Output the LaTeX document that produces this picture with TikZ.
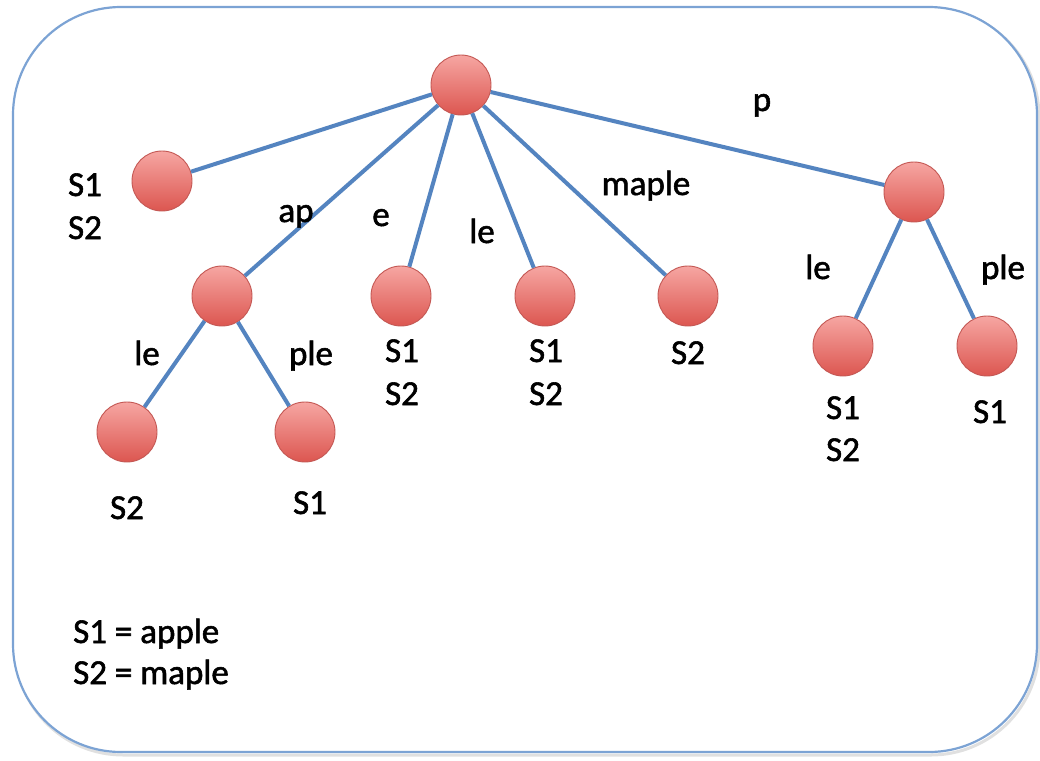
\documentclass[tikz,border=0pt]{standalone}
\usepackage{fontspec}
\setmainfont{Carlito}[BoldFont=Carlito,BoldFeatures={FakeBold=1.6}]
\begin{document}
\begin{tikzpicture}[x=1pt,y=-1pt,
  edge/.style={draw=edgeblue,line width=4pt},
  vtx/.style={circle,minimum size=60pt,inner sep=0pt,draw=vtxline,line width=0.9pt,
    top color=vtxtop,bottom color=vtxbot},
  lbl/.style={font=\fontsize{35}{42}\selectfont\bfseries,anchor=base,inner sep=0pt,text=black}]
\definecolor{edgeblue}{RGB}{84,132,192}
\definecolor{framecol}{RGB}{124,163,212}
\definecolor{vtxline}{RGB}{196,88,84}
\definecolor{vtxtop}{RGB}{246,166,162}
\definecolor{vtxbot}{RGB}{220,86,80}
\useasboundingbox (0,0) rectangle (1040,760);
% outer frame with a faint shadow
\draw[black!12,line width=3pt,rounded corners=108pt] (15,9) rectangle (1039,755);
\draw[framecol,line width=2.2pt,fill=white,rounded corners=108pt] (13,7) rectangle (1037,752);

% vertices
\node[vtx] (root) at (461,85) {};
\node[vtx] (n12) at (162,181) {};
\node[vtx] (ap) at (222,296) {};
\node[vtx] (aple) at (127,432) {};
\node[vtx] (apple) at (305,432) {};
\node[vtx] (e) at (401,296) {};
\node[vtx] (le) at (545,296) {};
\node[vtx] (maple) at (688,296) {};
\node[vtx] (p) at (914,192) {};
\node[vtx] (ple) at (843,346) {};
\node[vtx] (pple) at (987,346) {};

% tree edges
\path[edge] (root) -- (n12);
\path[edge] (root) -- (ap);
\path[edge] (root) -- (e);
\path[edge] (root) -- (le);
\path[edge] (root) -- (maple);
\path[edge] (root) -- (p);
\path[edge] (ap) -- (aple);
\path[edge] (ap) -- (apple);
\path[edge] (p) -- (ple);
\path[edge] (p) -- (pple);

% edge labels
\node[lbl] (tap) at (296,222) {ap};
\node[lbl] (te) at (381,226) {e};
\node[lbl] (tle) at (482,243) {le};
\node[lbl] (tmaple) at (646,195) {maple};
\node[lbl] (tp) at (762,111) {p};
\node[lbl] (tle2) at (147,365) {le};
\node[lbl] (tple2) at (311,365) {ple};
\node[lbl] (tle3) at (818,279) {le};
\node[lbl] (tple3) at (1003,279) {ple};

% leaf sets
\node[lbl] (s1a) at (85,196) {S1};
\node[lbl] (s2a) at (85,239) {S2};
\node[lbl] (s2b) at (127,519) {S2};
\node[lbl] (s1c) at (310,514) {S1};
\node[lbl] (s1d) at (402,362) {S1};
\node[lbl] (s2d) at (402,405) {S2};
\node[lbl] (s1e) at (546,362) {S1};
\node[lbl] (s2e) at (546,405) {S2};
\node[lbl] (s2f) at (688,364) {S2};
\node[lbl] (s1g) at (843,419) {S1};
\node[lbl] (s2g) at (843,461) {S2};
\node[lbl] (s1h) at (990,423) {S1};

% legend
\node[lbl,anchor=base west] (key1) at (73,643) {S1 = apple};
\node[lbl,anchor=base west] (key2) at (73,684) {S2 = maple};
\end{tikzpicture}
\end{document}
